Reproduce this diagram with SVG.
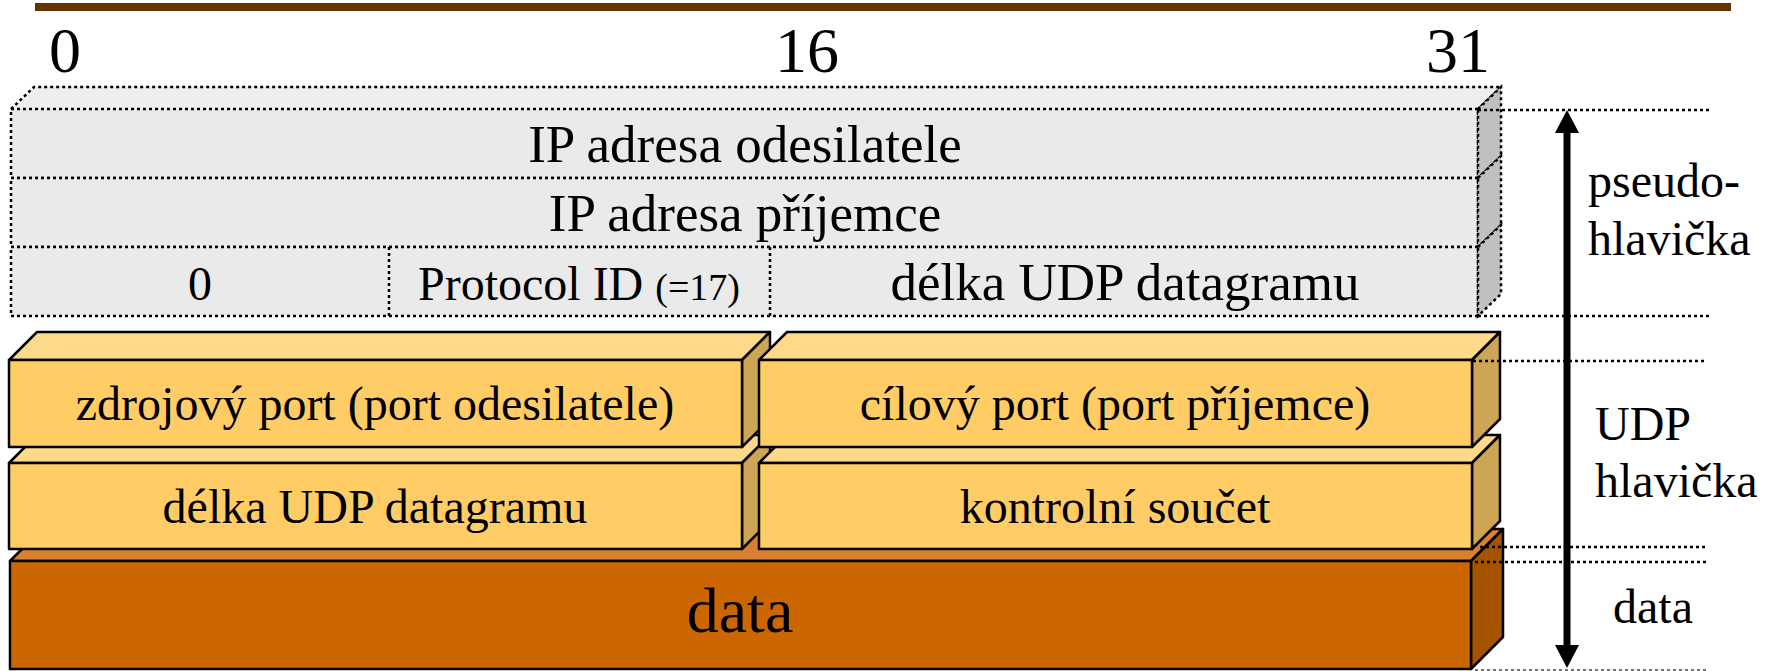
<svg xmlns="http://www.w3.org/2000/svg" width="1767" height="671" viewBox="0 0 1767 671" font-family="'Liberation Serif', 'Times New Roman', serif">
<style>
text{font-family:'Liberation Serif','Times New Roman',serif;fill:#000}
.dot{stroke:#000;stroke-width:2.5;stroke-dasharray:3 3;fill:none}
.gf{fill:#EAEAEA}
.gt{fill:#EEEEEE}
.gs{fill:#C0C0C0}
.uf{fill:#FFCC66;stroke:#000;stroke-width:2.5;stroke-linejoin:round}
.ut{fill:#FFD98A;stroke:#000;stroke-width:2.5;stroke-linejoin:round}
.us{fill:#CDA555;stroke:#000;stroke-width:2.5;stroke-linejoin:round}
.df{fill:#CC6600;stroke:#000;stroke-width:2.5;stroke-linejoin:round}
.dt{fill:#D98033;stroke:#000;stroke-width:2.5;stroke-linejoin:round}
.ds{fill:#A65300;stroke:#000;stroke-width:2.5;stroke-linejoin:round}
.guide{stroke:#000;stroke-width:2.5;stroke-dasharray:3 3;fill:none}
.c{text-anchor:middle}
</style>
<defs>
<marker id="ah" markerWidth="24" markerHeight="24" refX="0" refY="12" orient="auto-start-reverse" markerUnits="userSpaceOnUse">
<path d="M0,0 L23,12 L0,24 z" fill="#000"/>
</marker>
</defs>

<rect x="35" y="3" width="1696" height="8" fill="#663300"/>

<g id="bit-labels" font-size="64">
<text class="c" x="65" y="72">0</text>
<text class="c" x="807" y="72">16</text>
<text class="c" x="1458" y="72">31</text>
</g>

<g id="pseudo-header">
<polygon class="gt" points="11,109 34,87 1501,87 1478,109"/>
<polyline class="dot" points="11,109 34,87 1501,87 1478,109"/>
<g id="ph-row1">
<rect class="gf" x="11" y="109" width="1467" height="69"/>
<rect class="dot" x="11" y="109" width="1467" height="69"/>
<polygon class="gs" points="1478,109 1501,87 1501,156 1478,178"/>
<polygon class="dot" points="1478,109 1501,87 1501,156 1478,178"/>
<text class="c" x="745" y="162" font-size="53">IP adresa odesilatele</text>
</g>
<g id="ph-row2">
<rect class="gf" x="11" y="178" width="1467" height="69"/>
<rect class="dot" x="11" y="178" width="1467" height="69"/>
<polygon class="gs" points="1478,178 1501,156 1501,225 1478,247"/>
<polygon class="dot" points="1478,178 1501,156 1501,225 1478,247"/>
<text class="c" x="745" y="231" font-size="53">IP adresa příjemce</text>
</g>
<g id="ph-row3">
<rect class="gf" x="11" y="247" width="1467" height="69"/>
<rect class="dot" x="11" y="247" width="1467" height="69"/>
<polygon class="gs" points="1478,247 1501,225 1501,294 1478,316"/>
<polygon class="dot" points="1478,247 1501,225 1501,294 1478,316"/>
<g id="ph-zero">
<text class="c" x="200" y="300" font-size="48">0</text>
</g>
<g id="ph-protocol">
<line class="dot" x1="389" y1="247" x2="389" y2="316"/>
<text class="c" x="579" y="300" font-size="48">Protocol ID <tspan font-size="38">(=17)</tspan></text>
</g>
<g id="ph-length">
<line class="dot" x1="770" y1="247" x2="770" y2="316"/>
<text class="c" x="1125" y="300" font-size="53">délka UDP datagramu</text>
</g>
</g>
</g>

<g id="data-block">
<polygon class="dt" points="10,561 42,529 1503,529 1471,561"/>
<polygon class="ds" points="1471,561 1503,529 1503,637 1471,669"/>
<rect class="df" x="10" y="561" width="1461" height="108"/>
<text class="c" x="740" y="632" font-size="64">data</text>
</g>

<g id="udp-length">
<polygon class="ut" points="9,463 37,435 770,435 742,463"/>
<polygon class="us" points="742,463 770,435 770,521 742,549"/>
<rect class="uf" x="9" y="463" width="733" height="86"/>
<text class="c" x="375" y="523" font-size="48">délka UDP datagramu</text>
</g>
<g id="udp-checksum">
<polygon class="ut" points="759,463 787,435 1500,435 1472,463"/>
<polygon class="us" points="1472,463 1500,435 1500,521 1472,549"/>
<rect class="uf" x="759" y="463" width="713" height="86"/>
<text class="c" x="1115" y="523" font-size="48">kontrolní součet</text>
</g>
<g id="udp-srcport">
<polygon class="ut" points="9,360 37,332 770,332 742,360"/>
<polygon class="us" points="742,360 770,332 770,419 742,447"/>
<rect class="uf" x="9" y="360" width="733" height="87"/>
<text class="c" x="375" y="420" font-size="48">zdrojový port (port odesilatele)</text>
</g>
<g id="udp-dstport">
<polygon class="ut" points="759,360 787,332 1500,332 1472,360"/>
<polygon class="us" points="1472,360 1500,332 1500,419 1472,447"/>
<rect class="uf" x="759" y="360" width="713" height="87"/>
<text class="c" x="1115" y="420" font-size="48">cílový port (port příjemce)</text>
</g>

<g id="connectors">
<line class="guide" x1="1478" y1="110" x2="1709" y2="110"/>
<line class="guide" x1="1478" y1="316" x2="1711" y2="316"/>
<line class="guide" x1="1473" y1="361" x2="1707" y2="361"/>
<line class="guide" x1="1480" y1="547" x2="1707" y2="547"/>
<line class="guide" x1="1475" y1="562" x2="1707" y2="562"/>
<line x1="1475" y1="670" x2="1707" y2="670" stroke="#444" stroke-width="1.5" stroke-dasharray="3 3"/>
<line x1="1567" y1="133" x2="1567" y2="645" stroke="#000" stroke-width="7" marker-start="url(#ah)" marker-end="url(#ah)"/>
</g>

<g id="side-labels" font-size="48">
<text x="1588" y="197">pseudo-</text>
<text x="1588" y="255">hlavička</text>
<text x="1595" y="440">UDP</text>
<text x="1595" y="497">hlavička</text>
<text class="c" x="1653" y="623">data</text>
</g>
</svg>
